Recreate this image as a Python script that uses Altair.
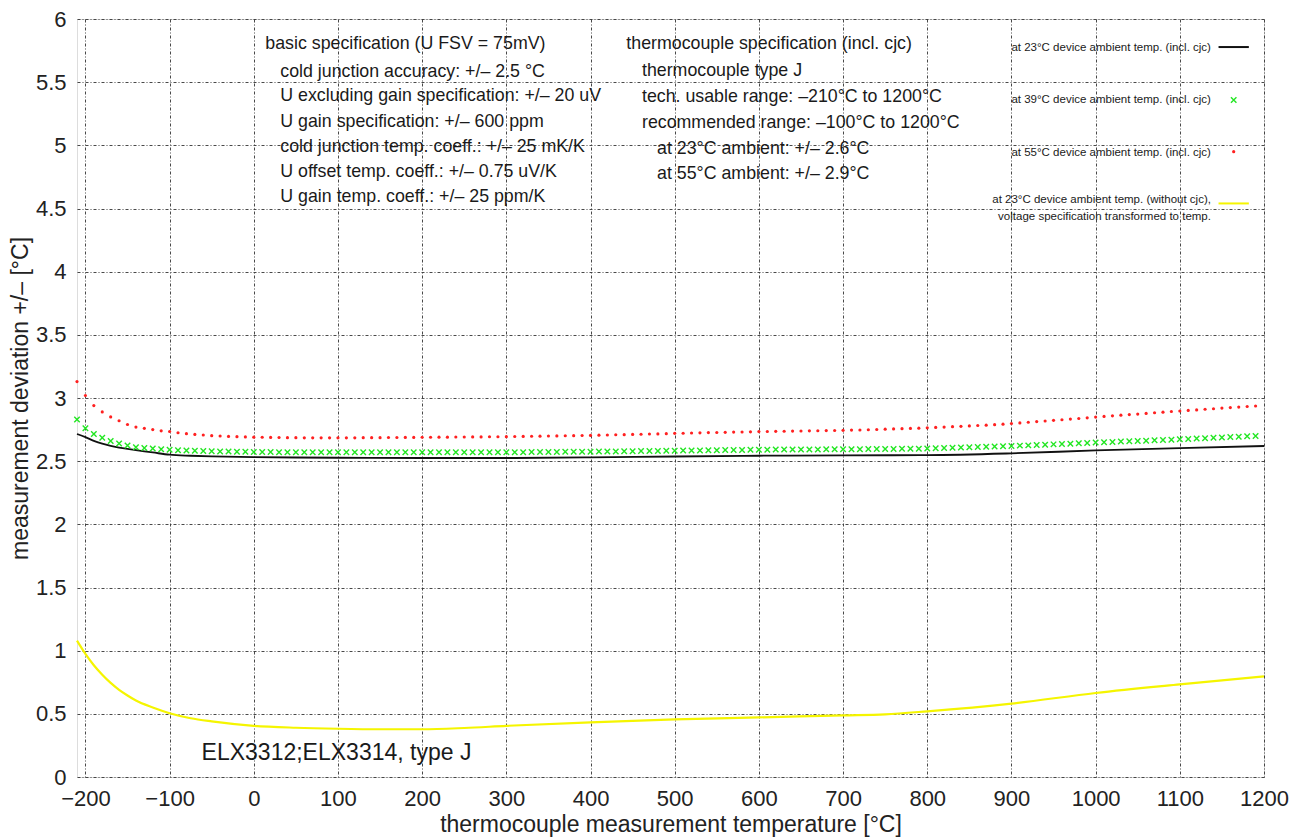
import altair as alt
import pandas as pd

# ---------------- data ----------------
T_MARK = list(range(-210, 1200, 10))

V_RED = [3.13, 3.02, 2.94, 2.89, 2.85, 2.82, 2.79, 2.77, 2.76, 2.75, 2.74,
         2.735, 2.725, 2.718, 2.712, 2.707, 2.702, 2.699, 2.696, 2.694, 2.692,
         2.690, 2.689, 2.688, 2.687, 2.686, 2.686, 2.685, 2.685, 2.685, 2.685,
         2.685, 2.685, 2.685, 2.686, 2.686, 2.686, 2.687, 2.687, 2.688, 2.688,
         2.689, 2.689, 2.690, 2.690, 2.691, 2.691, 2.692, 2.692, 2.693, 2.693,
         2.694, 2.695, 2.696, 2.697, 2.698, 2.699, 2.700, 2.701, 2.702, 2.703,
         2.704, 2.706, 2.707, 2.709, 2.710, 2.712, 2.713, 2.715, 2.716, 2.718,
         2.720, 2.721, 2.723, 2.724, 2.726, 2.727, 2.728, 2.730, 2.731, 2.732,
         2.734, 2.735, 2.736, 2.737, 2.738, 2.739, 2.740, 2.741, 2.742, 2.743,
         2.744, 2.746, 2.747, 2.749, 2.751, 2.753, 2.755, 2.757, 2.759, 2.761,
         2.764, 2.767, 2.770, 2.773, 2.776, 2.779, 2.782, 2.785, 2.789, 2.793,
         2.798, 2.803, 2.808, 2.813, 2.818, 2.823, 2.828, 2.833, 2.838, 2.843,
         2.849, 2.854, 2.859, 2.864, 2.869, 2.873, 2.878, 2.883, 2.888, 2.893,
         2.897, 2.902, 2.906, 2.911, 2.915, 2.920, 2.924, 2.928, 2.933, 2.937]

V_GREEN = [2.83, 2.76, 2.715, 2.686, 2.66, 2.64, 2.624, 2.61, 2.605, 2.60, 2.594,
           2.590, 2.587, 2.584, 2.582, 2.580, 2.578, 2.577, 2.576, 2.575, 2.574,
           2.573, 2.572, 2.572, 2.571, 2.571, 2.570, 2.570, 2.570, 2.570, 2.570,
           2.570, 2.570, 2.570, 2.570, 2.570, 2.570, 2.570, 2.570, 2.570, 2.570,
           2.570, 2.570, 2.570, 2.570, 2.570, 2.570, 2.570, 2.570, 2.570, 2.570,
           2.570, 2.571, 2.571, 2.572, 2.572, 2.573, 2.573, 2.574, 2.574, 2.575,
           2.575, 2.576, 2.577, 2.577, 2.578, 2.579, 2.580, 2.580, 2.581, 2.582,
           2.583, 2.584, 2.585, 2.585, 2.586, 2.587, 2.588, 2.589, 2.589, 2.590,
           2.591, 2.591, 2.592, 2.592, 2.592, 2.593, 2.593, 2.593, 2.594, 2.594,
           2.594, 2.595, 2.595, 2.596, 2.596, 2.597, 2.597, 2.598, 2.598, 2.599,
           2.600, 2.602, 2.604, 2.606, 2.608, 2.610, 2.612, 2.614, 2.616, 2.618,
           2.620, 2.623, 2.625, 2.628, 2.630, 2.633, 2.636, 2.638, 2.641, 2.644,
           2.647, 2.650, 2.652, 2.655, 2.657, 2.660, 2.662, 2.665, 2.668, 2.670,
           2.673, 2.676, 2.679, 2.682, 2.685, 2.688, 2.691, 2.694, 2.697, 2.700]

T_BLACK = [-210, -200, -190, -180, -170, -160, -150, -140, -130, -120, -100, -75, -50,
           0, 50, 100, 200, 300, 400, 500, 600, 700, 800, 900, 1000, 1100, 1200]
V_BLACK = [2.715, 2.69, 2.661, 2.638, 2.621, 2.608, 2.597, 2.587, 2.578, 2.569, 2.551, 2.543, 2.538,
           2.532, 2.529, 2.527, 2.525, 2.525, 2.53, 2.537, 2.543, 2.546, 2.548, 2.562, 2.585, 2.604, 2.62]

T_YELLOW = [-210, -200, -190, -180, -170, -160, -150, -140, -120, -100, -75, -50, 0, 50, 100,
            150, 200, 250, 300, 400, 500, 600, 700, 750, 800, 900, 1000, 1100, 1200]
V_YELLOW = [1.08, 0.975, 0.885, 0.81, 0.745, 0.69, 0.645, 0.605, 0.55, 0.505, 0.465, 0.44, 0.405, 0.39, 0.382,
            0.378, 0.378, 0.388, 0.405, 0.433, 0.456, 0.472, 0.488, 0.496, 0.52, 0.581, 0.665, 0.733, 0.796]

X_TICKS = [-200, -100, 0, 100, 200, 300, 400, 500, 600, 700, 800, 900, 1000, 1100, 1200]
Y_TICKS = [0, 0.5, 1, 1.5, 2, 2.5, 3, 3.5, 4, 4.5, 5, 5.5, 6]

BASIC_TEXT = ["basic specification (U FSV = 75mV)",
              "cold junction accuracy: +/– 2.5 °C",
              "U excluding gain specification: +/– 20 uV",
              "U gain specification: +/– 600 ppm",
              "cold junction temp. coeff.: +/– 25 mK/K",
              "U offset temp. coeff.: +/– 0.75 uV/K",
              "U gain temp. coeff.: +/– 25 ppm/K"]
BASIC_T = [13.7, 31.5, 31.5, 31.5, 31.5, 31.5, 31.5]
BASIC_V = [5.80, 5.578, 5.39, 5.187, 4.987, 4.79, 4.589]

TC_TEXT = ["thermocouple specification (incl. cjc)",
           "thermocouple type J",
           "tech. usable range: –210°C to 1200°C",
           "recommended range: –100°C to 1200°C",
           "at 23°C ambient: +/– 2.6°C",
           "at 55°C ambient: +/– 2.9°C"]
TC_T = [442.5, 461.1, 461.1, 461.1, 479.0, 479.0]
TC_V = [5.80, 5.59, 5.385, 5.18, 4.97, 4.77]

MODEL_TEXT = ["ELX3312;ELX3314, type J"]
MODEL_T = [-62]
MODEL_V = [0.19]

LEG_TEXT = ["at 23°C device ambient temp. (incl. cjc)",
            "at 39°C device ambient temp. (incl. cjc)",
            "at 55°C device ambient temp. (incl. cjc)",
            "at 23°C device ambient temp. (without cjc),",
            "voltage specification transformed to temp."]
LEG_T = [1137, 1137, 1137, 1137, 1137]
LEG_V = [5.768, 5.359, 4.942, 4.567, 4.432]
LEG_LINE_T = [1146, 1146]
LEG_LINE_T2 = [1182, 1182]
LEG_LINE_V = [5.778, 4.54]
LEG_LINE_COLOR = ["#111111", "#f5f500"]
LEG_GREEN = ([1164], [5.359])
LEG_RED = ([1164], [4.95])

# ---------------- scales / axes ----------------
FONT = "Liberation Sans"
xs = alt.Scale(domain=[-210, 1200], nice=False, zero=False)
ys = alt.Scale(domain=[0, 6], nice=False, zero=False)
xa = alt.Axis(title="thermocouple measurement temperature [°C]", values=X_TICKS, format="d",
              grid=True, ticks=False, domain=False, labelPadding=11, titlePadding=4,
              labelFontSize=22, titleFontSize=23, labelFont=FONT, titleFont=FONT,
              labelColor="#222", titleColor="#222", titleFontWeight="normal",
              gridColor="#333", gridDash=[3, 2, 1, 2], gridWidth=0.9, labelFlush=False,
              labelOverlap=False)
ya = alt.Axis(title="measurement deviation +/– [°C]", values=Y_TICKS, format="~g",
              grid=True, ticks=False, domain=False, labelPadding=11, titlePadding=3,
              labelFontSize=22, titleFontSize=23, labelFont=FONT, titleFont=FONT,
              labelColor="#222", titleColor="#222", titleFontWeight="normal",
              gridColor="#333", gridDash=[3, 2, 1, 2], gridWidth=0.9, labelFlush=False,
              labelOverlap=False)


def X(field="t"):
    return alt.X(f"{field}:Q", scale=xs, axis=xa)


def Y(field="v"):
    return alt.Y(f"{field}:Q", scale=ys, axis=ya)


df_red = pd.DataFrame({"t": T_MARK, "v": V_RED})
df_green = pd.DataFrame({"t": T_MARK, "v": V_GREEN})
df_black = pd.DataFrame({"t": T_BLACK, "v": V_BLACK})
df_yellow = pd.DataFrame({"t": T_YELLOW, "v": V_YELLOW})

black = alt.Chart(df_black).mark_line(color="#111111", strokeWidth=1.8, interpolate="monotone").encode(x=X(), y=Y())
yellow = alt.Chart(df_yellow).mark_line(color="#f5f500", strokeWidth=2.2, interpolate="monotone").encode(x=X(), y=Y())
XSHAPE = "M-1,-1L1,1M-1,1L1,-1"
green = alt.Chart(df_green).mark_point(shape=XSHAPE, filled=False, color="#22e622", strokeWidth=1.4,
                                       size=30, opacity=1).encode(x=X(), y=Y())
red = alt.Chart(df_red).mark_circle(color="#ff2020", size=10, opacity=1).encode(x=X(), y=Y())


def text_layer(texts, ts, vs, size, align="left"):
    d = pd.DataFrame({"t": ts, "v": vs, "s": texts})
    return alt.Chart(d).mark_text(align=align, baseline="middle", fontSize=size, font=FONT,
                                  color="#1a1a1a").encode(x=X(), y=Y(), text="s:N")


basic = text_layer(BASIC_TEXT, BASIC_T, BASIC_V, 17.8)
tc = text_layer(TC_TEXT, TC_T, TC_V, 17.8)
model = text_layer(MODEL_TEXT, MODEL_T, MODEL_V, 23)
leg_text = text_layer(LEG_TEXT, LEG_T, LEG_V, 11.5, align="right")

df_leg_lines = pd.DataFrame({"t": LEG_LINE_T, "t2": LEG_LINE_T2, "v": LEG_LINE_V, "c": LEG_LINE_COLOR})
leg_lines = alt.Chart(df_leg_lines).mark_rule(strokeWidth=2).encode(
    x=X(), x2="t2:Q", y=Y(), color=alt.Color("c:N", scale=None))
leg_green = alt.Chart(pd.DataFrame({"t": LEG_GREEN[0], "v": LEG_GREEN[1]})).mark_point(
    shape=XSHAPE, filled=False, color="#22e622", strokeWidth=1.4, size=30, opacity=1).encode(x=X(), y=Y())
leg_red = alt.Chart(pd.DataFrame({"t": LEG_RED[0], "v": LEG_RED[1]})).mark_circle(
    color="#ff2020", size=10, opacity=1).encode(x=X(), y=Y())

chart = alt.layer(yellow, black, green, red, basic, tc, model, leg_text, leg_lines, leg_green, leg_red).properties(
    width=1187, height=758,
    autosize=alt.AutoSizeParams(type="none"),
    padding={"left": 69, "top": 11, "right": 30, "bottom": 62},
).configure_view(stroke="#222222", strokeWidth=1.2).configure(background="white")

chart.save("out.html", embed_options={"renderer": "svg", "actions": False})
